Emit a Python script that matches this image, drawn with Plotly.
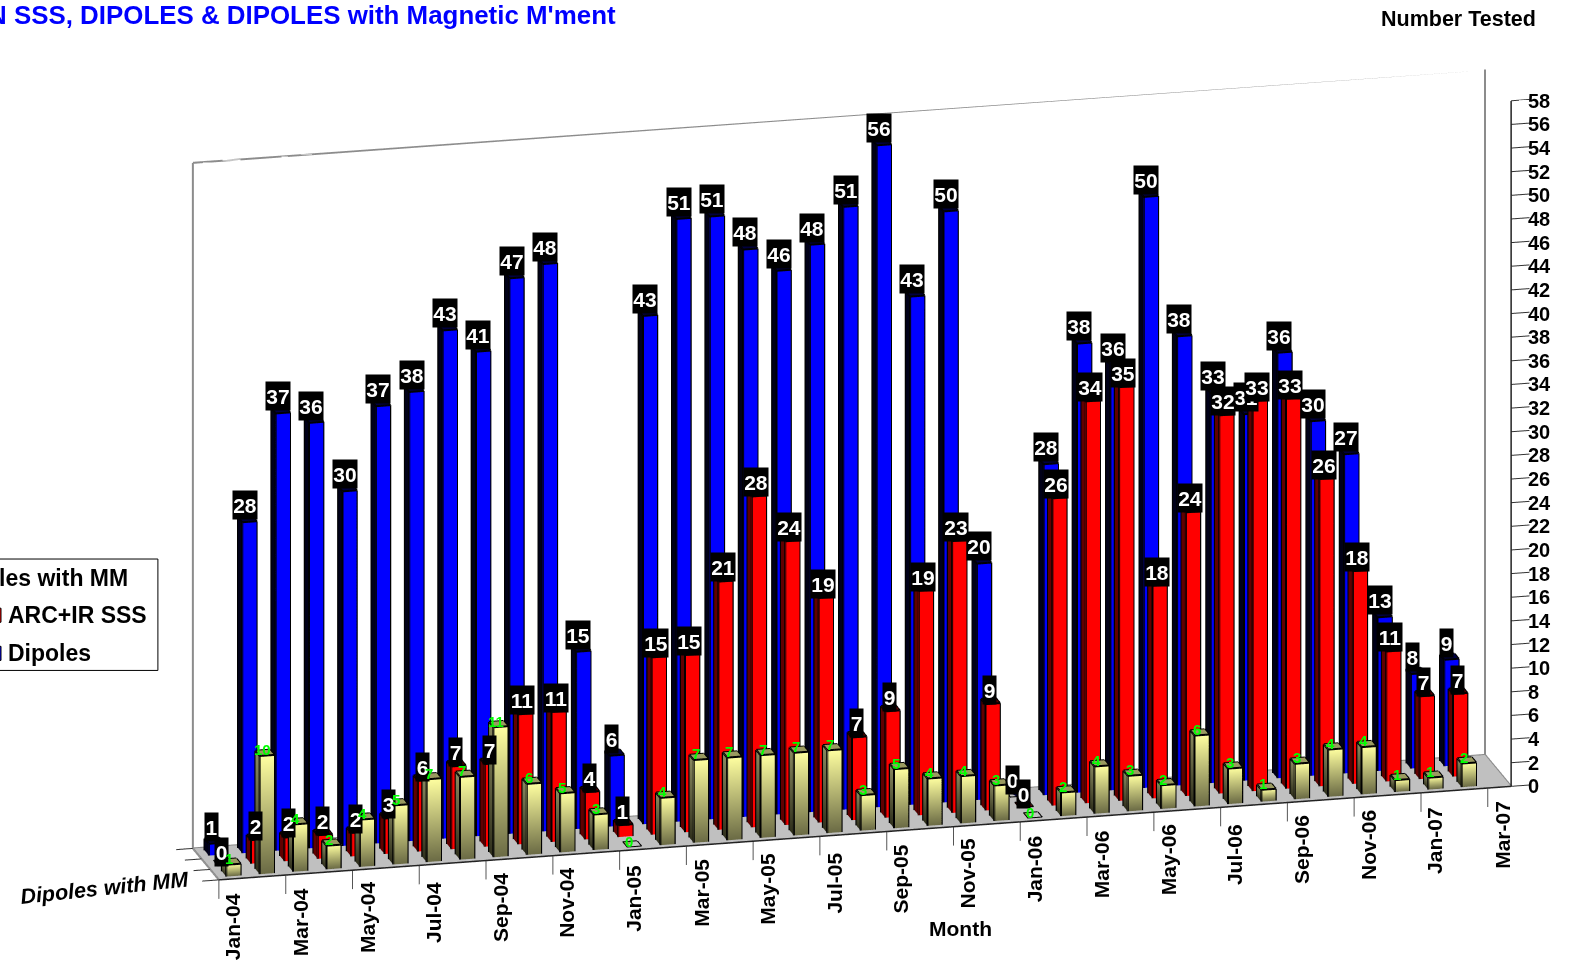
import plotly.graph_objects as go

months = ["Jan-04","Feb-04","Mar-04","Apr-04","May-04","Jun-04","Jul-04","Aug-04","Sep-04","Oct-04","Nov-04","Dec-04",
          "Jan-05","Feb-05","Mar-05","Apr-05","May-05","Jun-05","Jul-05","Aug-05","Sep-05","Oct-05","Nov-05","Dec-05",
          "Jan-06","Feb-06","Mar-06","Apr-06","May-06","Jun-06","Jul-06","Aug-06","Sep-06","Oct-06","Nov-06","Dec-06",
          "Jan-07","Feb-07"]
x_ticks = ["Jan-04","Mar-04","May-04","Jul-04","Sep-04","Nov-04","Jan-05","Mar-05","May-05","Jul-05","Sep-05","Nov-05",
           "Jan-06","Mar-06","May-06","Jul-06","Sep-06","Nov-06","Jan-07","Mar-07"]
dipoles = [1,28,37,36,30,37,38,43,41,47,48,15, 6,43,51,51,48,46,48,51,56,43,50,20, 0,28,38,36,50,38,33,31,36,30,27,13, 8,9]
arc_ir  = [0,2,2,2,2,3,6,7,7,11,11,4, 1,15,15,21,28,24,19,7,9,19,23,9, 0,26,34,35,18,24,32,33,33,26,18,11, 7,7]
with_mm = [1,10,4,2,4,5,7,7,11,6,5,3, 0,4,7,7,7,7,7,3,5,4,4,3, 0,2,4,3,2,6,3,1,3,4,4,1, 1,2]
z_ticks = list(range(0, 60, 2))

X_MAX, Y_MAX, Z_MAX = len(months) + 0.7, 3, 58
BW, BD = 0.215, 0.25
FONT = "Liberation Sans"
PW, PH = 1566.0, 964.5

def bars(values, yc, front_top, front_bot, side_top, side_bot, top):
    vx, vy, vz, vc, I, J, K = [], [], [], [], [], [], []
    ex, ey, ez = [], [], []
    for i, h in enumerate(values):
        h = float(h)
        x0, x1, y0, y1 = i + .5 - BW, i + .5 + BW, yc - BD, yc + BD
        quads = [
            ([(x0,y0,0),(x1,y0,0),(x1,y0,h),(x0,y0,h)], [front_bot,front_bot,front_top,front_top]),
            ([(x0,y1,0),(x0,y0,0),(x0,y0,h),(x0,y1,h)], [side_bot,side_bot,side_top,side_top]),
            ([(x0,y0,h),(x1,y0,h),(x1,y1,h),(x0,y1,h)], [top]*4),
        ]
        for pts, cols in quads:
            n = len(vx)
            for p, c in zip(pts, cols):
                vx.append(p[0]); vy.append(p[1]); vz.append(p[2]); vc.append(c)
            I += [n, n]; J += [n+1, n+2]; K += [n+2, n+3]
        for a, b in [((x0,y0,0),(x1,y0,0)),((x0,y0,0),(x0,y0,h)),((x1,y0,0),(x1,y0,h)),((x0,y1,0),(x0,y1,h)),
                     ((x0,y1,0),(x0,y0,0)),((x0,y0,h),(x1,y0,h)),((x0,y0,h),(x0,y1,h)),((x0,y1,h),(x1,y1,h)),((x1,y0,h),(x1,y1,h))]:
            ex += [a[0], b[0], None]; ey += [a[1], b[1], None]; ez += [a[2], b[2], None]
    mesh = go.Mesh3d(x=vx, y=vy, z=vz, i=I, j=J, k=K, vertexcolor=vc, flatshading=True,
                     lighting=dict(ambient=1, diffuse=0, specular=0, fresnel=0, roughness=1), hoverinfo="skip")
    edge = go.Scatter3d(x=ex, y=ey, z=ez, mode="lines", line=dict(color="black", width=4), hoverinfo="skip", showlegend=False)
    return [mesh, edge]

def lines(segs, color, width):
    xs, ys, zs = [], [], []
    for a, b in segs:
        xs += [a[0], b[0], None]; ys += [a[1], b[1], None]; zs += [a[2], b[2], None]
    return go.Scatter3d(x=xs, y=ys, z=zs, mode="lines", line=dict(color=color, width=width), hoverinfo="skip", showlegend=False)

fig = go.Figure()
fig.add_trace(go.Mesh3d(x=[0,X_MAX,X_MAX,0], y=[0,0,Y_MAX,Y_MAX], z=[0,0,0,0], i=[0,0], j=[1,2], k=[2,3], color="#c0c0c0",
                        flatshading=True, lighting=dict(ambient=1, diffuse=0, specular=0, fresnel=0, roughness=1), hoverinfo="skip"))
for t in bars(dipoles, 2.5, "#0000ff", "#0000ff", "#000018", "#000018", "#000040"): fig.add_trace(t)
for t in bars(arc_ir, 1.5, "#ff0000", "#ff0000", "#600000", "#600000", "#600000"): fig.add_trace(t)
for t in bars(with_mm, 0.5, "#ffffa0", "#6b6b45", "#8a8a60", "#30301c", "#9a9a60"): fig.add_trace(t)

fig.add_trace(lines([((0,Y_MAX,0),(0,Y_MAX,Z_MAX)), ((0,Y_MAX,Z_MAX),(X_MAX,Y_MAX,Z_MAX)), ((X_MAX,Y_MAX,Z_MAX),(X_MAX,Y_MAX,0)),
                     ((0,Y_MAX,0),(X_MAX,Y_MAX,0)), ((X_MAX,Y_MAX,0),(X_MAX,0,0)), ((0,0,0),(0,Y_MAX,0))], "#8c8c8c", 4))
fig.add_trace(lines([((0,0,0),(X_MAX,0,0)), ((X_MAX,0,0),(X_MAX,0,Z_MAX))], "#222222", 3))
fig.add_trace(lines([((X_MAX,0,v),(X_MAX+.55,0,v)) for v in z_ticks], "#333333", 2))
fig.add_trace(lines([((i*2,0,0),(i*2,0,-1.6)) for i in range(len(x_ticks))], "#555555", 2))
fig.add_trace(lines([((0,v,0),(-.5,v,0)) for v in range(Y_MAX+1)], "#333333", 2))

ann = []
for vals, yc, col, size, xs, ys in [(dipoles,2.5,"white",21,-3,14),(arc_ir,1.5,"white",21,-1,11),(with_mm,0.5,"#00ff00",15,-3,3)]:
    for i, v in enumerate(vals):
        d = dict(x=i+.5, y=yc, z=v, text=f"<b>{v}</b>", showarrow=False, font=dict(color=col, size=size, family=FONT),
                 xshift=xs, yshift=ys)
        if col == "white":
            d.update(bgcolor="black", borderpad=0, width=24 if v > 9 else 13, height=28)
        ann.append(d)
ann.append(dict(x=0, y=0, z=0, text="<b><i>Dipoles with MM</i></b>", showarrow=False, xshift=-114, yshift=-8, textangle=-6,
                font=dict(color="black", size=21.5, family=FONT)))
for i, lab in enumerate(x_ticks):
    ann.append(dict(x=i*2, y=0, z=0, text=f"<b>{lab}</b>", showarrow=False, textangle=-90, xshift=14, yshift=-47,
                    font=dict(color="black", size=21, family=FONT)))
for v in z_ticks:
    ann.append(dict(x=X_MAX, y=0, z=v, text=f"<b>{v}</b>", showarrow=False, xanchor="left", xshift=15,
                    font=dict(color="black", size=20, family=FONT)))

S = 4.0
ZOOM = 1.53
cam = dict(eye=dict(x=-0.2275*S, y=-0.929*S, z=0.296*S), center=dict(x=0, y=0, z=0), up=dict(x=0, y=0, z=1),
           projection=dict(type="orthographic"))
hidden = dict(showgrid=False, zeroline=False, showbackground=False, showline=False, showticklabels=False, ticks="",
              title=dict(text=""), showspikes=False)
XLO, XHI, ZLO = -1, 40, -1.65
def paper(text, x, y, anchor, size, color="black"):
    return dict(xref="paper", yref="paper", x=x/PW, y=1-y/PH, xanchor=anchor, yanchor="middle", showarrow=False,
                text=f"<b>{text}</b>", font=dict(color=color, size=size, family=FONT))
def rect(x0, x1, y0, y1, fill):
    return dict(type="rect", xref="paper", yref="paper", x0=x0/PW, x1=x1/PW, y0=1-y1/PH, y1=1-y0/PH,
                line=dict(color="black", width=1), fillcolor=fill)
fig.update_layout(
    width=1575, height=968, margin=dict(l=0, r=0, t=0, b=0), paper_bgcolor="white", showlegend=False,
    scene=dict(
        domain=dict(x=[0.0885,1], y=[0,1]), camera=cam, aspectmode="manual",
        aspectratio=dict(x=ZOOM*1.8*0.98*(XHI-XLO)/38, y=ZOOM*0.148, z=ZOOM*0.994*0.975*(Z_MAX-ZLO)/Z_MAX),
        annotations=ann,
        xaxis=dict(range=[XLO,XHI], **hidden),
        yaxis=dict(range=[0,Y_MAX], **hidden),
        zaxis=dict(range=[ZLO,Z_MAX], **hidden),
    ),
    shapes=[rect(-20, 157, 557, 668, "white"), rect(-12, 1, 606, 620, "#ff0000"), rect(-12, 1, 644, 658, "#0000ff")],
    annotations=[
        paper("N SSS, DIPOLES &amp; DIPOLES with Magnetic M'ment", 614, 15, "right", 25.9, "#0000ff"),
        paper("Number Tested", 1529, 19, "right", 21.5),
        paper("Month", 955, 925, "center", 21),
        paper("Dipoles with MM", 129, 576, "right", 23),
        paper("ARC+IR SSS", 6, 613, "left", 23),
        paper("Dipoles", 6, 651, "left", 23),
    ],
)
fig.write_html("out.html", post_script="document.body.style.margin='0';", config={"displayModeBar": False})
